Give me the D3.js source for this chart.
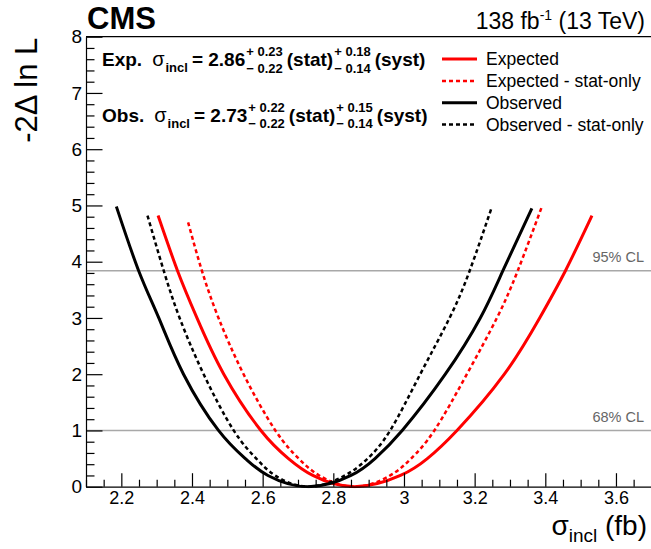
<!DOCTYPE html>
<html>
<head>
<meta charset="utf-8">
<script src="https://cdn.jsdelivr.net/npm/d3@7"></script>
<style>
  body { margin: 0; background: #fff; }
  svg { font-family: "Liberation Sans", Arial, Helvetica, sans-serif; }
</style>
</head>
<body>
<svg id="chart"></svg>
<script>
// likelihood scans (sigma_incl in fb, -2 delta ln L)
var expX     = [2.304, 2.359, 2.414, 2.490, 2.595, 2.673, 2.742, 2.860, 2.990, 3.066, 3.150, 3.284, 3.384, 3.457, 3.532];
var expY     = [4.82, 3.84, 3.0, 2.0, 1.0, 0.5, 0.2, 0.0, 0.2, 0.5, 1.0, 2.0, 3.0, 3.84, 4.82];
var expStatX = [2.389, 2.428, 2.475, 2.546, 2.636, 2.702, 2.760, 2.860, 2.961, 3.020, 3.086, 3.178, 3.263, 3.322, 3.391];
var expStatY = [4.70, 3.84, 3.0, 2.0, 1.0, 0.5, 0.2, 0.0, 0.2, 0.5, 1.0, 2.0, 3.0, 3.84, 4.99];
var obsX     = [2.186, 2.249, 2.306, 2.376, 2.475, 2.551, 2.615, 2.730, 2.850, 2.918, 2.995, 3.117, 3.216, 3.280, 3.362];
var obsY     = [4.98, 3.84, 3.0, 2.0, 1.0, 0.5, 0.2, 0.0, 0.2, 0.5, 1.0, 2.0, 3.0, 3.84, 4.95];
var obsStatX = [2.274, 2.320, 2.365, 2.433, 2.518, 2.582, 2.635, 2.730, 2.833, 2.897, 2.961, 3.046, 3.129, 3.186, 3.247];
var obsStatY = [4.82, 3.84, 3.0, 2.0, 1.0, 0.5, 0.2, 0.0, 0.2, 0.5, 1.0, 2.0, 3.0, 3.84, 4.94];

var legendNames = ["Expected", "Expected - stat-only", "Observed", "Observed - stat-only"];
var clLevels = [1.0, 3.84];
var clNames = ["68% CL", "95% CL"];

var xTicks = [2.2, 2.4, 2.6, 2.8, 3.0, 3.2, 3.4, 3.6];
var yTicks = [0, 1, 2, 3, 4, 5, 6, 7, 8];

var screen = {width: 651, height: 549};
var frame = {left: 86, right: 651.3, top: 36.7, bottom: 486.7};

var svg = d3.select("#chart")
    .attr("width", screen.width)
    .attr("height", screen.height);

var x = d3.scaleLinear().domain([2.1, 3.7]).range([frame.left, frame.right]);
var y = d3.scaleLinear().domain([0, 8]).range([frame.bottom, frame.top]);

var zip = function(xs, ys)
{
    return xs.map(function(v, i) { return [v, ys[i]]; });
};

var curves = [
    {pts: zip(expX, expY),         color: "#ff0000", dash: null,  width: 3},
    {pts: zip(expStatX, expStatY), color: "#ff0000", dash: "4,3", width: 2.5},
    {pts: zip(obsX, obsY),         color: "#000000", dash: null,  width: 3},
    {pts: zip(obsStatX, obsStatY), color: "#000000", dash: "4,3", width: 2.5}
];

svg.append("clipPath")
    .attr("id", "plotclip")
    .append("rect")
    .attr("x", frame.left)
    .attr("y", frame.top)
    .attr("width", frame.right - frame.left)
    .attr("height", frame.bottom - frame.top + 1.5);

// CL lines
svg.selectAll(".cl")
    .data(clLevels)
    .enter()
    .append("line")
    .attr("x1", frame.left)
    .attr("x2", frame.right)
    .attr("y1", function(d) { return y(d); })
    .attr("y2", function(d) { return y(d); })
    .attr("stroke", "#a8a8a8")
    .attr("stroke-width", 1.5);

svg.selectAll(".cltext")
    .data(clLevels)
    .enter()
    .append("text")
    .attr("x", 644)
    .attr("y", function(d) { return y(d) - 8.5; })
    .attr("text-anchor", "end")
    .attr("font-size", 14.5)
    .attr("fill", "#666")
    .text(function(d, i) { return clNames[i]; });

// scans
var line = d3.line()
    .x(function(d) { return x(d[0]); })
    .y(function(d) { return y(d[1]); })
    .curve(d3.curveNatural);

svg.append("g")
    .attr("clip-path", "url(#plotclip)")
    .selectAll(".scan")
    .data(curves)
    .enter()
    .append("path")
    .attr("d", function(c) { return line(c.pts); })
    .attr("fill", "none")
    .attr("stroke", function(c) { return c.color; })
    .attr("stroke-width", function(c) { return c.width; })
    .attr("stroke-dasharray", function(c) { return c.dash; });

// axes, ticks inside the frame
var xMinor = d3.range(2.1, 3.7001, 0.05).filter(function(v)
{
    return Math.abs(v * 5 - Math.round(v * 5)) > 1e-6;
});
var yMinor = d3.range(0, 8.0001, 0.2).filter(function(v)
{
    return Math.abs(v - Math.round(v)) > 1e-6;
});

var xAxis = svg.append("g")
    .attr("transform", "translate(0," + frame.bottom + ")")
    .call(d3.axisBottom(x).tickValues(xTicks).tickSizeInner(-13.5).tickSizeOuter(0)
        .tickPadding(5).tickFormat(function(d) { return String(+d.toFixed(1)); }));
svg.append("g")
    .attr("transform", "translate(0," + frame.bottom + ")")
    .call(d3.axisBottom(x).tickValues(xMinor).tickSize(-7).tickFormat(""))
    .select(".domain").remove();

var yAxis = svg.append("g")
    .attr("transform", "translate(" + frame.left + ",0)")
    .call(d3.axisLeft(y).tickValues(yTicks).tickSizeInner(-16.5).tickSizeOuter(0)
        .tickPadding(4).tickFormat(d3.format("d")));
svg.append("g")
    .attr("transform", "translate(" + frame.left + ",0)")
    .call(d3.axisLeft(y).tickValues(yMinor).tickSize(-8.5).tickFormat(""))
    .select(".domain").remove();

svg.selectAll(".tick line").attr("stroke", "#000").attr("stroke-width", 1.2);
svg.selectAll(".domain").attr("stroke", "#000").attr("stroke-width", 1.2);
xAxis.selectAll("text").attr("font-size", 18).attr("fill", "#000");
yAxis.selectAll("text").attr("font-size", 19).attr("fill", "#000");

// top of frame
svg.append("line")
    .attr("x1", frame.left).attr("x2", frame.right)
    .attr("y1", frame.top).attr("y2", frame.top)
    .attr("stroke", "#000").attr("stroke-width", 1.2);

// axis titles
svg.append("text")
    .attr("transform", "translate(37," + (frame.top + 1) + ") rotate(-90)")
    .attr("text-anchor", "end")
    .attr("font-size", 31)
    .text("-2\u0394 ln L");

var xt = svg.append("text")
    .attr("x", 647)
    .attr("y", 535)
    .attr("text-anchor", "end")
    .attr("font-size", 28);
xt.append("tspan").text("\u03c3");
xt.append("tspan").attr("font-size", 19).attr("dy", 7).text("incl");
xt.append("tspan").attr("dy", -7).text(" (fb)");

// header
svg.append("text")
    .attr("x", 87)
    .attr("y", 29)
    .attr("font-size", 31)
    .attr("font-weight", "bold")
    .text("CMS");

var lumi = svg.append("text")
    .attr("x", 645)
    .attr("y", 29)
    .attr("text-anchor", "end")
    .attr("font-size", 23);
lumi.append("tspan").text("138 fb");
lumi.append("tspan").attr("font-size", 14).attr("dy", -9).text("-1");
lumi.append("tspan").attr("dy", 9).text(" (13 TeV)");

// result lines with stacked up/down errors
var writeResult = function(x0, base, label, central, stat, syst)
{
    var cursor = x0;
    var piece = function(str, size, dy, weight, gap)
    {
        var t = svg.append("text")
            .attr("x", cursor)
            .attr("y", base + dy)
            .attr("font-size", size)
            .attr("font-weight", weight)
            .text(str);
        cursor += t.node().getComputedTextLength() + gap;
    };
    var stack = function(up, down, gap)
    {
        var a = svg.append("text").attr("x", cursor).attr("y", base - 10)
            .attr("font-size", 13).attr("font-weight", "bold").text("+ " + up);
        var b = svg.append("text").attr("x", cursor).attr("y", base + 6.5)
            .attr("font-size", 13).attr("font-weight", "bold").text("\u2212 " + down);
        cursor += Math.max(a.node().getComputedTextLength(), b.node().getComputedTextLength()) + gap;
    };
    piece(label, 19, 0, "bold", 10);
    piece("\u03c3", 20, 0, "normal", 1);
    piece("incl", 13, 6, "bold", 4);
    piece("= " + central, 19, 0, "bold", 1);
    stack(stat[0], stat[1], 4);
    piece("(stat)", 19, 0, "bold", 1);
    stack(syst[0], syst[1], 4);
    piece("(syst)", 19, 0, "bold", 0);
};
writeResult(102, 66, "Exp.", "2.86", ["0.23", "0.22"], ["0.18", "0.14"]);
writeResult(102, 121.7, "Obs.", "2.73", ["0.22", "0.22"], ["0.15", "0.14"]);

// legend
var rowY = [59, 81, 102.7, 124.5];
var leg = svg.selectAll(".leg")
    .data(curves)
    .enter()
    .append("g")
    .attr("transform", function(d, i) { return "translate(0," + rowY[i] + ")"; });
leg.append("line")
    .attr("x1", 442).attr("x2", 477)
    .attr("stroke", function(c) { return c.color; })
    .attr("stroke-width", function(c) { return c.width; })
    .attr("stroke-dasharray", function(c) { return c.dash; });
leg.append("text")
    .attr("x", 486)
    .attr("y", 6)
    .attr("font-size", 17.5)
    .text(function(d, i) { return legendNames[i]; });
</script>
</body>
</html>
